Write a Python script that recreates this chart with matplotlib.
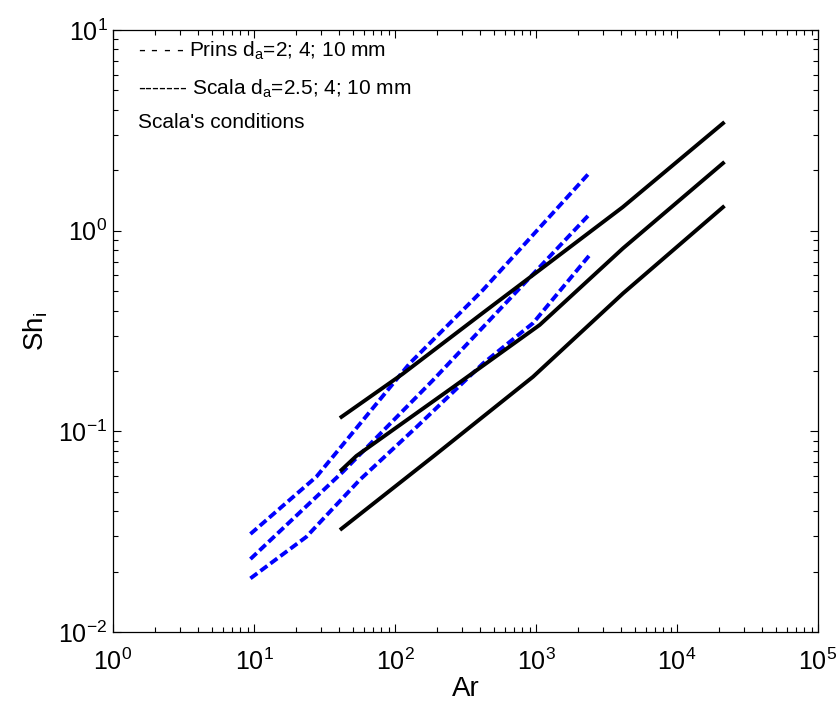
import numpy as np
import matplotlib
matplotlib.use('Agg')
import matplotlib.pyplot as plt
from matplotlib.ticker import FixedLocator, NullFormatter

# fonts: Arial-like look
plt.rcParams['font.family'] = 'Liberation Sans'
plt.rcParams['mathtext.fontset'] = 'custom'
plt.rcParams['mathtext.rm'] = 'Liberation Sans'
plt.rcParams['mathtext.it'] = 'Liberation Sans:italic'
plt.rcParams['axes.unicode_minus'] = False

# Scala's conditions, solid black curves (Ar, Sh_i)
scala_ar = [
    [41.7, 113, 419, 1062, 4120, 21200],
    [41.7, 53.2, 258, 1062, 4140, 21200],
    [41.7, 186, 952, 4140, 21200],
]
scala_sh = [
    [0.118, 0.193, 0.389, 0.637, 1.31, 3.43],
    [0.0642, 0.0754, 0.166, 0.339, 0.817, 2.17],
    [0.0327, 0.0748, 0.187, 0.487, 1.31],
]

# Prins, blue dashed curves (Ar, Sh_i)
prins_ar = [
    [9.43, 27.7, 127, 421, 2404],
    [9.43, 42.8, 186, 495, 2376],
    [9.43, 23.5, 56.2, 142, 421, 952, 2404],
]
prins_sh = [
    [0.0308, 0.0594, 0.218, 0.507, 1.95],
    [0.0231, 0.0630, 0.180, 0.373, 1.20],
    [0.0185, 0.0298, 0.0573, 0.105, 0.218, 0.346, 0.757],
]

legend_lines = [
    r'- - - - Prins d$_\mathregular{a}$=2; 4; 10 mm',
    r'------- Scala d$_\mathregular{a}$=2.5; 4; 10 mm',
    "Scala's conditions",
]

fig = plt.figure(figsize=(8.39, 7.06), dpi=100)
ax = fig.add_axes([0.1347, 0.1048, 0.8403, 0.8527])

for xs, ys in zip(prins_ar, prins_sh):
    ax.plot(xs, ys, color='#0000ff', lw=2.8, dashes=(2.2, 1.0), dash_capstyle='butt')
for xs, ys in zip(scala_ar, scala_sh):
    ax.plot(xs, ys, color='black', lw=2.8)

ax.set_xscale('log')
ax.set_yscale('log')
ax.set_xlim(1, 1e5)
ax.set_ylim(1e-2, 1e1)

# minor ticks 2..9 in every decade
x_minor = [k * 10.0**d for d in range(0, 5) for k in range(2, 10)]
y_minor = [k * 10.0**d for d in range(-2, 1) for k in range(2, 10)]
ax.xaxis.set_minor_locator(FixedLocator(x_minor))
ax.xaxis.set_minor_formatter(NullFormatter())
ax.yaxis.set_minor_locator(FixedLocator(y_minor))
ax.yaxis.set_minor_formatter(NullFormatter())

ax.set_xlabel('Ar', fontsize=20, labelpad=1)
ax.set_ylabel(r'Sh$_\mathregular{i}$', fontsize=20, labelpad=6)

ax.tick_params(which='both', direction='in', top=True, right=True, labelsize=18)
ax.tick_params(axis='x', pad=12)
ax.tick_params(axis='y', pad=4)
ax.tick_params(which='major', length=6, width=0.8)
ax.tick_params(which='minor', length=3.5, width=0.8)
for s in ax.spines.values():
    s.set_linewidth(0.9)

for txt, yy in zip(legend_lines, [0.9557, 0.893, 0.838]):
    ax.text(0.035, yy, txt, transform=ax.transAxes, fontsize=15, va='baseline')

fig.savefig('out.png', dpi=100)
